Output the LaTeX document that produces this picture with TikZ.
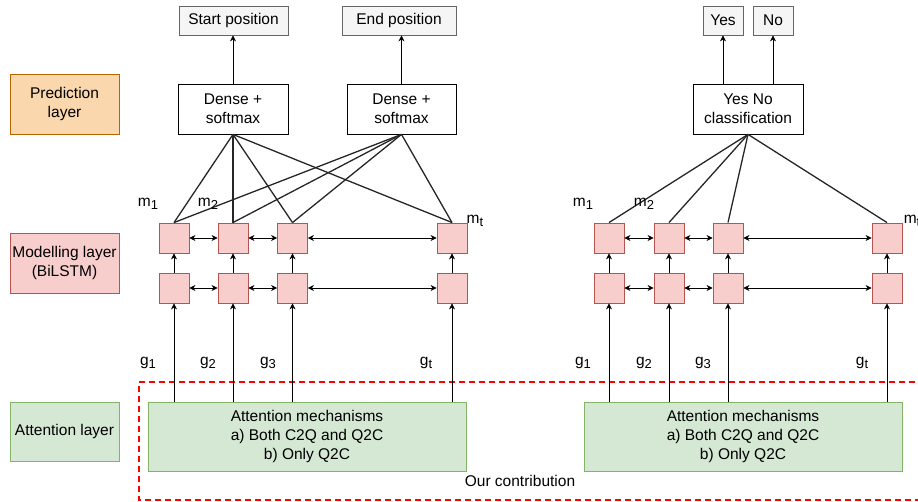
\documentclass[tikz,border=0pt]{standalone}
\usepackage{fontspec}
\setmainfont{Liberation Sans}
\usetikzlibrary{arrows.meta}
\definecolor{orfill}{HTML}{FAD7AC}\definecolor{ordraw}{HTML}{B46504}
\definecolor{pkfill}{HTML}{F8CECC}\definecolor{pkdraw}{HTML}{B85450}
\definecolor{grfill}{HTML}{D5E8D4}\definecolor{grdraw}{HTML}{82B366}
\definecolor{gyfill}{HTML}{F5F5F5}\definecolor{gydraw}{HTML}{666666}
\newcommand\lsub[1]{\raisebox{-0.4ex}{\fontsize{13}{13}\selectfont #1}}
\tikzset{
  txt/.style={font=\fontsize{15.5}{19}\selectfont, align=center, inner sep=0pt},
  layerbox/.style={txt, minimum width=109pt, minimum height=60pt, line width=0.9pt},
  predbox/.style={layerbox, fill=orfill, draw=ordraw},
  modbox/.style={layerbox, fill=pkfill, draw=pkdraw},
  attbox/.style={layerbox, fill=grfill, draw=grdraw},
  outbox/.style={txt, fill=gyfill, draw=gydraw, minimum height=29pt, line width=0.8pt},
  densebox/.style={txt, draw=black, fill=white, minimum width=110pt, minimum height=50pt, line width=0.8pt},
  cell/.style={draw=pkdraw, fill=pkfill, minimum size=30pt, inner sep=0pt, line width=0.9pt},
  attn/.style={txt, fill=grfill, draw=grdraw, minimum width=318pt, minimum height=69pt, line width=0.9pt},
  lbl/.style={txt},
  arr/.style={-{Stealth[length=6pt,width=6pt]}, line width=0.7pt},
  darr/.style={{Stealth[length=6pt,width=6pt]}-{Stealth[length=6pt,width=6pt]}, line width=0.7pt},
  conn/.style={line width=1.3pt, draw=black!85},
  contrib/.style={draw=red, line width=1.5pt, dash pattern=on 6pt off 4pt},
}
\begin{document}
\begin{tikzpicture}[x=1pt,y=-1pt]
\useasboundingbox (0,0) rectangle (918,502);
% layer labels
\node[predbox] (pred) at (64.5,104) {Prediction\\layer};
\node[modbox] (mod) at (64.5,263) {Modelling layer\\(BiLSTM)};
\node[attbox, minimum height=59pt] (attl) at (64.5,431.5) {Attention layer};
% contribution region
\draw[contrib] (935,382) -- (139,382) -- (139,500) -- (935,500);
\node[lbl] (our) at (520,481) {Our contribution};
% ---------- left model ----------
\node[outbox, minimum width=109pt] (start) at (233.5,20.5) {Start position};
\node[outbox, minimum width=114pt] (endp) at (399,20.5) {End position};
\node[densebox] (d1) at (233,109) {Dense +\\softmax};
\node[densebox, minimum width=109pt] (d2) at (401.5,109) {Dense +\\softmax};
\node[cell] (a1) at (174,238) {};
\node[cell] (a2) at (233,238) {};
\node[cell] (a3) at (292.5,238) {};
\node[cell] (a4) at (452,238) {};
\node[cell] (b1) at (174,288) {};
\node[cell] (b2) at (233,288) {};
\node[cell] (b3) at (292.5,288) {};
\node[cell] (b4) at (452,288) {};
\node[attn] (at1) at (307,436.5) {Attention mechanisms\\a) Both C2Q and Q2C\\b) Only Q2C};
\draw[arr] (d1.north) -- (d1.north |- start.south);
\draw[arr] (d2.north) -- (d2.north |- endp.south);
\foreach \c in {a1,a2,a3,a4}{
  \draw[conn] (d1.south) -- (\c.north);
  \draw[conn] (d2.south) -- (\c.north);
}
\draw[darr] (a1.east) -- (a2.west);
\draw[darr] (a2.east) -- (a3.west);
\draw[darr] (a3.east) -- (a4.west);
\draw[darr] (b1.east) -- (b2.west);
\draw[darr] (b2.east) -- (b3.west);
\draw[darr] (b3.east) -- (b4.west);
\foreach \i in {1,2,3,4}{
  \draw[arr] (b\i.north) -- (a\i.south);
  \draw[arr] (at1.north -| b\i.south) -- (b\i.south);
}
\node[lbl] (lm1) at (148,204) {m\lsub{1}};
\node[lbl] (lm2) at (208,204) {m\lsub{2}};
\node[lbl] (lmt) at (475,221) {m\lsub{t}};
\node[lbl] (lg1) at (148,363) {g\lsub{1}};
\node[lbl] (lg2) at (208,363) {g\lsub{2}};
\node[lbl] (lg3) at (268,363) {g\lsub{3}};
\node[lbl] (lgt) at (426,363) {g\lsub{t}};
% ---------- right model ----------
\node[outbox, minimum width=40pt] (yes) at (723,20.5) {Yes};
\node[outbox, minimum width=40pt] (no) at (773,20.5) {No};
\node[densebox] (yn) at (748,109) {Yes No\\classification};
\node[cell] (c1) at (609,238) {};
\node[cell] (c2) at (669,238) {};
\node[cell] (c3) at (728,238) {};
\node[cell] (c4) at (887,238) {};
\node[cell] (e1) at (609,288) {};
\node[cell] (e2) at (669,288) {};
\node[cell] (e3) at (728,288) {};
\node[cell] (e4) at (887,288) {};
\node[attn] (at2) at (743,436.5) {Attention mechanisms\\a) Both C2Q and Q2C\\b) Only Q2C};
\draw[arr] (yn.north -| yes.south) -- (yes.south);
\draw[arr] (yn.north -| no.south) -- (no.south);
\foreach \c in {c1,c2,c3,c4}{
  \draw[conn] (yn.south) -- (\c.north);
}
\draw[darr] (c1.east) -- (c2.west);
\draw[darr] (c2.east) -- (c3.west);
\draw[darr] (c3.east) -- (c4.west);
\draw[darr] (e1.east) -- (e2.west);
\draw[darr] (e2.east) -- (e3.west);
\draw[darr] (e3.east) -- (e4.west);
\foreach \i in {1,2,3,4}{
  \draw[arr] (e\i.north) -- (c\i.south);
  \draw[arr] (at2.north -| e\i.south) -- (e\i.south);
}
\node[lbl] (rm1) at (583,204) {m\lsub{1}};
\node[lbl] (rm2) at (644,204) {m\lsub{2}};
\node[lbl] (rmt) at (912,221) {m\lsub{t}};
\node[lbl] (rg1) at (583,363) {g\lsub{1}};
\node[lbl] (rg2) at (644,363) {g\lsub{2}};
\node[lbl] (rg3) at (703,363) {g\lsub{3}};
\node[lbl] (rgt) at (862,363) {g\lsub{t}};
\end{tikzpicture}
\end{document}
